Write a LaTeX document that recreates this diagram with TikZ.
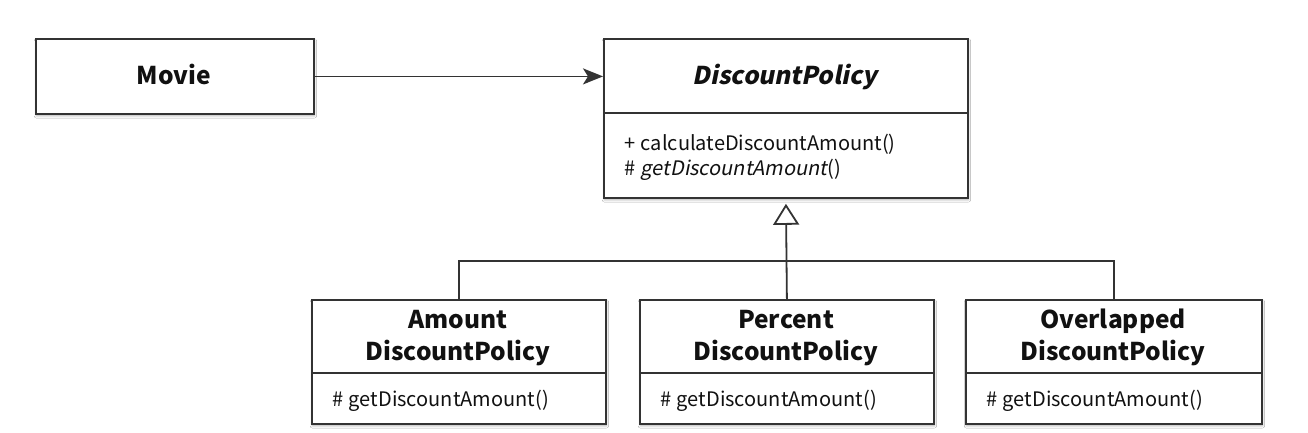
\documentclass[tikz,border=0pt]{standalone}
\usepackage{fontspec}
\setmainfont{Noto Sans CJK KR}[AutoFakeSlant=0.2]
\newfontfamily\slantfam{Noto Sans CJK KR}[FakeSlant=0.2, BoldFeatures={FakeSlant=0.2}]
\usetikzlibrary{arrows.meta,shadows.blur}
\definecolor{lineC}{HTML}{333333}
\definecolor{textC}{HTML}{111111}
\newcommand{\gapsp}{\hspace{0.28em}}
\tikzset{
  umlbox/.style={draw=lineC, line width=1.8pt, fill=white, anchor=north west, inner sep=0pt,
    blur shadow={shadow xshift=0.5pt, shadow yshift=-2pt, shadow blur steps=6, shadow opacity=30}},
  titletext/.style={font=\bfseries\fontsize{24.5}{32}\selectfont, text=textC, align=center, inner sep=0pt, anchor=base},
  methtext/.style={font=\fontsize{20}{25}\selectfont, text=textC, align=left, anchor=base west, inner sep=0pt},
  divider/.style={draw=lineC, line width=1.8pt},
  conn/.style={draw=lineC, line width=1.8pt}
}
\begin{document}
\begin{tikzpicture}[x=1pt,y=-1pt]
\useasboundingbox[fill=white] (0,0) rectangle (1308,432);
% boxes
\node[umlbox, minimum width=278pt, minimum height=75pt] (movie) at (35,38) {};
\node[umlbox, minimum width=364pt, minimum height=159pt] (dp) at (603,38) {};
\node[umlbox, minimum width=294pt, minimum height=124pt] (amt) at (311,299) {};
\node[umlbox, minimum width=294pt, minimum height=124pt] (pct) at (639,299) {};
\node[umlbox, minimum width=296pt, minimum height=124pt] (ovl) at (965,299) {};
% dividers
\draw[divider] ([yshift=-75pt]dp.north west) -- ([yshift=-75pt]dp.north east);
\draw[divider] ([yshift=-74pt]amt.north west) -- ([yshift=-74pt]amt.north east);
\draw[divider] ([yshift=-74pt]pct.north west) -- ([yshift=-74pt]pct.north east);
\draw[divider] ([yshift=-74pt]ovl.north west) -- ([yshift=-74pt]ovl.north east);
% titles
\node[titletext] (movieT) at (174,84) {Movie};
\node[titletext] (dpT) at (785,84) {\slantfam\bfseries DiscountPolicy};
\node[titletext] (amtT) at (458,360) {Amount\\DiscountPolicy};
\node[titletext] (pctT) at (786,360) {Percent\\DiscountPolicy};
\node[titletext] (ovlT) at (1113,360) {Overlapped\\DiscountPolicy};
% methods
\node[methtext] (dpM1) at (624,150) {+\gapsp calculateDiscountAmount()};
\node[methtext] (dpM2) at (624,175) {\#\gapsp\textit{getDiscountAmount}()};
\node[methtext] (amtM) at (332,406) {\#\gapsp getDiscountAmount()};
\node[methtext] (pctM) at (660,406) {\#\gapsp getDiscountAmount()};
\node[methtext] (ovlM) at (986,406) {\#\gapsp getDiscountAmount()};
% connectors
\draw[conn, -{Stealth[length=20pt, width=16pt, inset=5pt]}] (movie.east) -- (movie.east -| dp.west);
\coordinate (bar) at (786,261);
\draw[conn] (amt.north) -- (amt.north |- bar) -- (ovl.north |- bar) -- (ovl.north);
\draw[conn, -{Triangle[open, length=21pt, width=26pt, line width=1.8pt]}, shorten >=5pt] (pct.north) -- (dp.south);
\end{tikzpicture}
\end{document}
